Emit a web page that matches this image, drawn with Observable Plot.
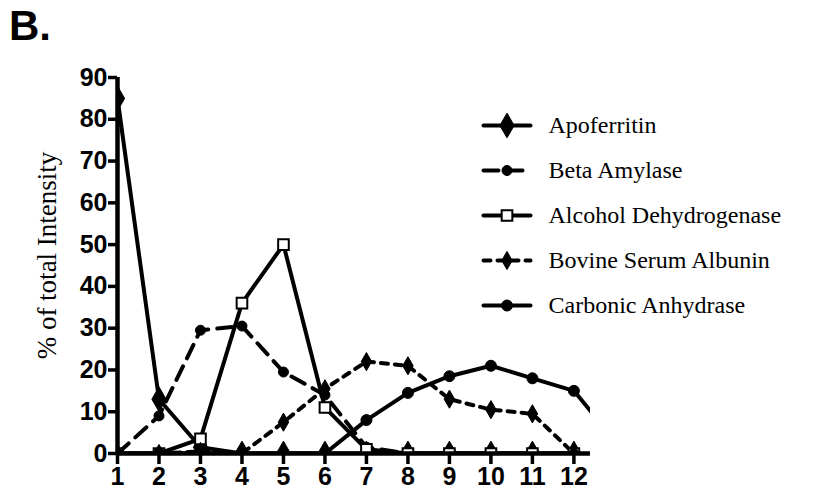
<!DOCTYPE html>
<html>
<head>
<meta charset="utf-8">
<script src="https://cdn.jsdelivr.net/npm/d3@7"></script>
<script src="https://cdn.jsdelivr.net/npm/@observablehq/plot@0.6"></script>
<style>
  html, body { margin: 0; padding: 0; background: #fff; }
  #wrap { position: relative; width: 816px; height: 502px; overflow: hidden; }
  #title { position: absolute; left: 9px; top: 2px; font: bold 42px "Liberation Sans", Arial, sans-serif; color: #000; }
  #legend { position: absolute; left: 470px; top: 100px; }
  #chart { position: absolute; left: 0; top: 0; }
</style>
</head>
<body>
<div id="wrap">
  <div id="chart"></div>
  <div id="legend"></div>
  <div id="title">B.</div>
</div>
<script>
// ---- data ----
const fractions = [1, 2, 3, 4, 5, 6, 7, 8, 9, 10, 11, 12, 13];
const seriesNames = ["Apoferritin", "Beta Amylase", "Alcohol Dehydrogenase", "Bovine Serum Albunin", "Carbonic Anhydrase"];
const apoferritin = [85, 13, 1.5, 0, 0, 0, 0, 0, 0, 0, 0, 0];
const betaAmylase = [0, 9, 29.5, 30.5, 19.5, 14, 1.5, 0, 0, 0, 0, 0];
const alcoholDH   = [0, 0, 3.5, 36, 50, 11, 1, 0, 0, 0, 0, 0];
const bsa         = [0, 0, 0.5, 0, 7.5, 15.5, 22, 21, 13, 10.5, 9.5, 0];
const carbonic    = [0, 0, 0, 0, 0, 0, 8, 14.5, 18.5, 21, 18, 15, 3];
const xTicks = [1, 2, 3, 4, 5, 6, 7, 8, 9, 10, 11, 12];
const yTicks = [0, 10, 20, 30, 40, 50, 60, 70, 80, 90];
const yLabel = "% of total Intensity";

const valuesBySeries = [apoferritin, betaAmylase, alcoholDH, bsa, carbonic];
const styles = [
  {dash: null,   symbol: "diamond", r: 7.5, fill: "black"},
  {dash: "15,9", symbol: "circle",  r: 5,   fill: "black"},
  {dash: null,   symbol: "square",  r: 6,   fill: "white"},
  {dash: "7,7",  symbol: "diamond", r: 5.5, fill: "black"},
  {dash: null,   symbol: "circle",  r: 5.5, fill: "black"}
];

const rows = [];
seriesNames.forEach((name, i) => {
  valuesBySeries[i].forEach((v, j) => rows.push({series: name, fraction: fractions[j], value: v}));
});

const marks = [];
seriesNames.forEach((name, i) => {
  const d = rows.filter(r => r.series === name);
  const s = styles[i];
  marks.push(Plot.line(d, {x: "fraction", y: "value", stroke: "black", strokeWidth: 4,
    strokeDasharray: s.dash || undefined, clip: true}));
});
seriesNames.forEach((name, i) => {
  const d = rows.filter(r => r.series === name);
  const s = styles[i];
  marks.push(Plot.dot(d, {x: "fraction", y: "value", symbol: () => s.symbol, r: s.r,
    fill: s.fill, stroke: "black", strokeWidth: s.fill === "white" ? 2 : 1, clip: true}));
});

const tickFont = "Liberation Sans, Arial, sans-serif";
const chart = Plot.plot({
  width: 816, height: 502,
  marginTop: 77, marginBottom: 49, marginLeft: 117, marginRight: 226,
  x: {domain: [1, 12.4]},
  y: {domain: [0, 90]},
  symbol: {type: "identity"},
  style: {background: "white", color: "black"},
  marks: [
    ...marks,
    Plot.ruleX([1], {strokeWidth: 4.5, stroke: "black"}),
    Plot.ruleY([0], {strokeWidth: 4.5, stroke: "black"}),
    Plot.axisY({ticks: yTicks, tickSize: 9, strokeWidth: 3.5, tickPadding: 1, label: null,
      fontSize: 25, fontWeight: "bold", fontFamily: tickFont}),
    Plot.axisX({ticks: xTicks, tickSize: 11, strokeWidth: 3.5, tickPadding: 3, label: null,
      fontSize: 25, fontWeight: "bold", fontFamily: tickFont, tickFormat: d => d}),
    Plot.text([yLabel], {text: d => d, frameAnchor: "left", textAnchor: "middle", rotate: -90, dx: -70, dy: -10,
      fontSize: 27, fontFamily: "Liberation Serif, Times New Roman, serif", fill: "black"})
  ]
});
document.getElementById("chart").appendChild(chart);

// ---- legend (separate small plot) ----
const legendMarks = [];
seriesNames.forEach((name, i) => {
  const s = styles[i];
  const seg = [{name, x: 0}, {name, x: 1}];
  legendMarks.push(Plot.line(seg, {x: "x", y: "name", stroke: "black", strokeWidth: 4,
    strokeDasharray: s.dash || undefined}));
  legendMarks.push(Plot.dot([{name, x: 0.5}], {x: "x", y: "name", symbol: () => s.symbol, r: s.r,
    fill: s.fill, stroke: "black", strokeWidth: s.fill === "white" ? 2 : 1}));
});
legendMarks.push(Plot.text(seriesNames, {x: () => 1, y: d => d, text: d => d, textAnchor: "start", dx: 18,
  fontSize: 24, fontFamily: "Liberation Serif, Times New Roman, serif", fill: "black"}));

const legend = Plot.plot({
  width: 340, height: 230,
  margin: 0,
  x: {domain: [0, 1], range: [13, 60], axis: null},
  y: {domain: seriesNames, range: [25, 205], type: "point", padding: 0, axis: null},
  symbol: {type: "identity"},
  style: {background: "transparent"},
  marks: legendMarks
});
document.getElementById("legend").appendChild(legend);
</script>
</body>
</html>
